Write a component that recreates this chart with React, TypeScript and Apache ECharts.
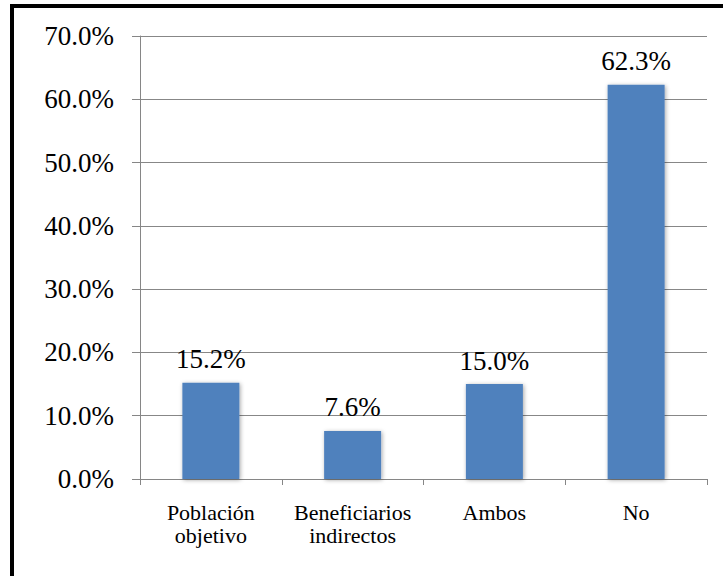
import React, { useEffect, useRef } from "react";
import * as echarts from "echarts";

const categories = ["Población\nobjetivo", "Beneficiarios\nindirectos", "Ambos", "No"];
const values = [15.2, 7.6, 15.0, 62.3];
const yTicks = { min: 0, max: 70, interval: 10 };

export default function App() {
  const ref = useRef<HTMLDivElement>(null);
  useEffect(() => {
    if (!ref.current) return;
    const chart = echarts.init(ref.current, null, { renderer: "svg" });
    const font = "'Liberation Serif', 'Times New Roman', serif";
    chart.setOption({
      animation: false,
      backgroundColor: "#ffffff",
      graphic: [
        {
          type: "rect",
          shape: { x: 12, y: 6, width: 800, height: 700 },
          style: { fill: "none", stroke: "#000000", lineWidth: 4 },
          silent: true,
          z: 100,
        },
      ],
      grid: { left: 140, top: 36, right: 16, bottom: 97, containLabel: false },
      xAxis: {
        type: "category",
        data: categories,
        axisLine: { show: true, lineStyle: { color: "#868686", width: 1 } },
        axisTick: { show: true, length: 6, alignWithLabel: false, lineStyle: { color: "#868686" } },
        axisLabel: {
          interval: 0,
          margin: 22,
          fontFamily: font,
          fontSize: 22,
          lineHeight: 23,
          color: "#000000",
        },
      },
      yAxis: {
        type: "value",
        min: yTicks.min,
        max: yTicks.max,
        interval: yTicks.interval,
        axisLine: { show: true, lineStyle: { color: "#868686", width: 1 } },
        axisTick: { show: true, length: 8, lineStyle: { color: "#868686" } },
        axisLabel: {
          margin: 26,
          fontFamily: font,
          fontSize: 27,
          color: "#000000",
          formatter: (v: number) => v.toFixed(1) + "%",
        },
        splitLine: { show: true, lineStyle: { color: "#878787", width: 1 } },
      },
      series: [
        {
          type: "bar",
          data: values,
          barWidth: 57,
          itemStyle: {
            color: "#4F81BD",
            shadowColor: "rgba(0,0,0,0.35)",
            shadowBlur: 4,
            shadowOffsetX: 1,
            shadowOffsetY: 1,
          },
          label: {
            show: true,
            position: "top",
            distance: 10,
            fontFamily: font,
            fontSize: 27,
            color: "#000000",
            formatter: (p: any) => Number(p.value).toFixed(1) + "%",
          },
        },
      ],
    });
    return () => chart.dispose();
  }, []);
  return (
    <div
      ref={ref}
      style={{ position: "fixed", left: 0, top: 0, width: 723, height: 576, background: "#fff" }}
    />
  );
}
